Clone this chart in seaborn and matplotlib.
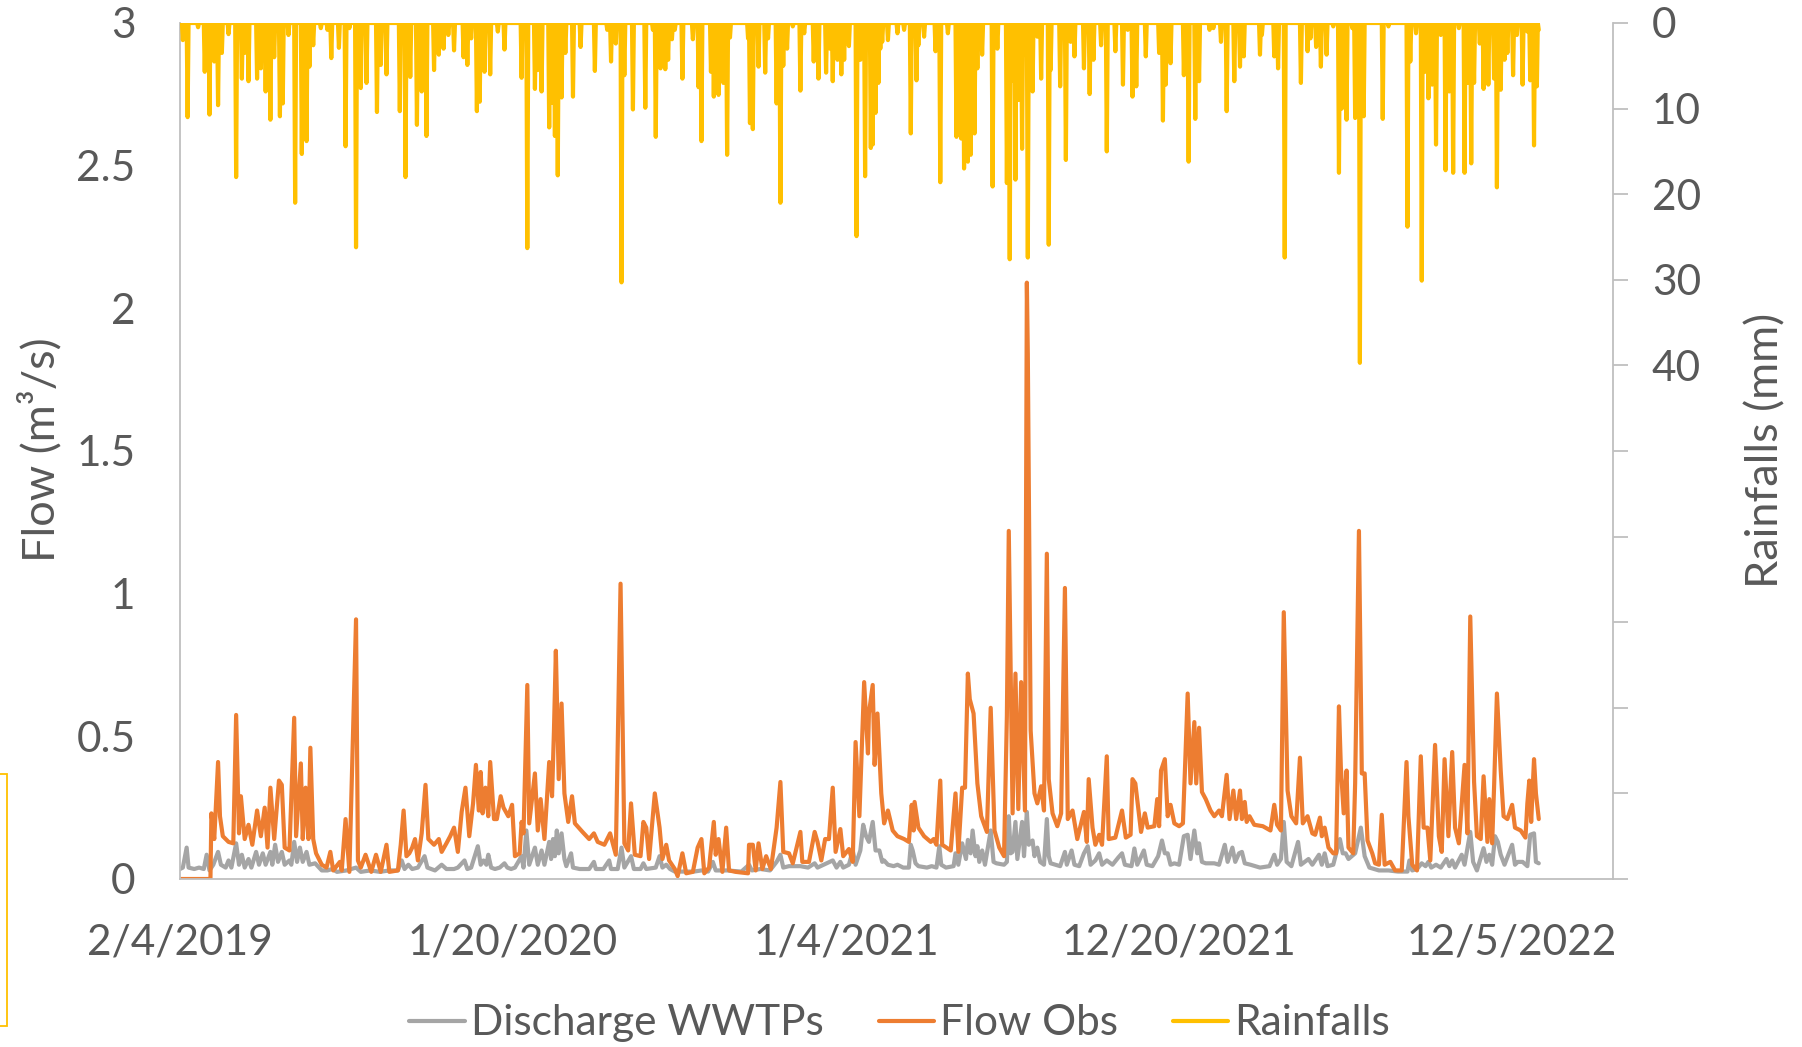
import matplotlib
matplotlib.use("Agg")
import matplotlib.pyplot as plt
import matplotlib.dates as mdates
from matplotlib.lines import Line2D
from matplotlib.patches import Rectangle
from matplotlib.ticker import FuncFormatter
import numpy as np
import pandas as pd
import seaborn as sns

# === data (day offset from 2/4/2019, value) ===
START = pd.Timestamp("2019-02-04")
LAST_DAY = 1428
AXIS_DAYS = 1506
TICK_DAYS = [0, 350, 700, 1050, 1400]

# daily rainfall in mm, days not listed had no rain
RAIN_EVENTS = [
    (3, 2), (8, 11), (19, 0.5), (26, 5.7), (31, 10.7), (36, 4.5), (40, 9.6), (44, 3.5), (51, 1.3),
    (59, 18), (65, 6.5), (68, 3.5), (72, 6.8), (81, 6.5), (85, 5.3), (90, 8), (95, 11.3), (99, 4),
    (105, 10.9), (108, 9.4), (114, 1.4), (121, 21), (128, 15.3), (133, 13.8), (136, 5.1), (140, 2.6),
    (148, 0.6), (155, 0.8), (159, 4.1), (167, 2.9), (174, 14.4), (178, 0.6), (185, 26.2), (190, 7.6),
    (196, 7), (207, 10.4), (211, 4.9), (217, 6), (231, 10.3), (237, 18), (242, 6.3), (249, 11.9),
    (254, 8), (259, 13.2), (267, 5.5), (272, 3.7), (277, 3), (282, 1.4), (288, 3.2), (298, 4),
    (302, 4.9), (306, 1.8), (312, 10.3), (315, 9.2), (320, 5.7), (326, 6), (334, 1), (341, 3.1),
    (359, 6.4), (365, 26.3), (373, 7.7), (376, 5.5), (380, 8), (388, 12.2), (391, 9.3), (394, 13.2),
    (397, 17.8), (401, 8.7), (405, 3.5), (413, 8.6), (421, 2.8), (436, 5.6), (449, 0.8), (453, 4.5),
    (458, 2.4), (464, 30.3), (467, 6.1), (476, 10.1), (489, 9.9), (497, 0.8), (500, 13.3), (505, 5.3),
    (510, 5.4), (513, 4.3), (517, 1.9), (520, 0.8), (528, 6.5), (539, 1.9), (545, 7.5), (548, 13.8),
    (558, 5.7), (561, 8.6), (566, 8.4), (571, 7), (575, 15.4), (578, 1.7), (597, 1.8), (599, 11.7),
    (602, 12.4), (608, 5.1), (615, 5.8), (618, 1.8), (627, 9.4), (631, 21), (634, 5), (638, 3),
    (644, 0.4), (652, 7.9), (656, 1.2), (666, 4.5), (671, 6.5), (679, 5.8), (683, 3), (686, 6.8),
    (691, 4.3), (695, 6), (698, 4.3), (703, 2.7), (711, 24.9), (715, 4.3), (720, 17.9), (726, 14.6),
    (728, 14.2), (731, 10.5), (734, 7), (736, 3), (738, 2.2), (744, 2), (754, 1.2), (761, 0.8),
    (768, 12.9), (774, 6.7), (776, 2.6), (782, 1.6), (794, 3.3), (799, 18.6), (807, 1.2), (816, 13.3),
    (821, 13.5), (824, 17), (828, 16.2), (831, 15.4), (835, 12.9), (838, 5.3), (843, 3.7), (854, 19.1),
    (859, 3), (869, 18.7), (872, 27.6), (875, 6.7), (878, 18.3), (881, 9), (885, 14.7), (888, 3.7),
    (891, 27.4), (896, 8), (901, 1.6), (905, 6.5), (913, 25.9), (915, 5.5), (925, 7.4), (931, 16),
    (936, 2.2), (940, 3.9), (950, 5.3), (956, 8.3), (960, 4.3), (968, 2.6), (974, 15), (983, 3.3),
    (991, 7.2), (996, 0.8), (1001, 8.6), (1005, 7.4), (1015, 3.9), (1029, 3.5), (1033, 11.4),
    (1036, 7.2), (1041, 4.7), (1055, 6.1), (1060, 16.2), (1067, 11.2), (1071, 6.8), (1082, 0.8),
    (1086, 0.6), (1094, 2.2), (1100, 10.3), (1108, 6.8), (1114, 5.1), (1118, 3.9), (1135, 3.7),
    (1137, 1.4), (1150, 3.9), (1154, 5.3), (1161, 27.4), (1178, 7), (1185, 3.3), (1188, 1.8),
    (1194, 2.8), (1199, 5.1), (1205, 3.7), (1212, 0.4), (1218, 17.5), (1221, 10), (1226, 11.3),
    (1232, 0.6), (1235, 11.1), (1240, 39.7), (1244, 10.9), (1264, 11.2), (1270, 0.4), (1290, 23.8),
    (1293, 4.5), (1299, 1.2), (1305, 30.1), (1309, 5.7), (1312, 8.8), (1316, 7.2), (1320, 14.2),
    (1325, 1.4), (1330, 17.2), (1334, 8), (1338, 17.5), (1344, 0.6), (1350, 17.5), (1353, 7),
    (1357, 16.4), (1360, 7), (1366, 2.4), (1370, 7.7), (1375, 7.2), (1381, 6.5), (1384, 19.2),
    (1388, 7.8), (1392, 4.3), (1395, 3.5), (1401, 6.1), (1405, 1.4), (1411, 7.2), (1416, 1),
    (1419, 6.7), (1423, 14.3), (1426, 7.4), (1428, 0.8),
]

# observed flow (m3/s)
FLOW_OBS = [
    (0, 0), (32, 0), (33, 0.23), (36, 0.14), (40, 0.41), (42, 0.22), (45, 0.15), (51, 0.13), (56, 0.125),
    (59, 0.575), (62, 0.16), (64, 0.29), (68, 0.14), (72, 0.19), (76, 0.12), (81, 0.24), (85, 0.15),
    (89, 0.25), (92, 0.11), (95, 0.32), (99, 0.14), (104, 0.345), (107, 0.33), (110, 0.11), (115, 0.10),
    (120, 0.565), (122, 0.15), (127, 0.405), (129, 0.14), (132, 0.32), (135, 0.14), (137, 0.46),
    (140, 0.14), (143, 0.09), (149, 0.05), (154, 0.04), (158, 0.095), (161, 0.03), (168, 0.06),
    (170, 0.03), (174, 0.21), (178, 0.025), (185, 0.91), (187, 0.065), (190, 0.04), (195, 0.085),
    (201, 0.025), (206, 0.085), (211, 0.025), (217, 0.12), (220, 0.025), (229, 0.03), (232, 0.12),
    (235, 0.24), (238, 0.08), (241, 0.09), (244, 0.11), (247, 0.14), (250, 0.065), (254, 0.16),
    (258, 0.33), (261, 0.14), (267, 0.12), (272, 0.14), (275, 0.095), (280, 0.125), (284, 0.15),
    (288, 0.18), (292, 0.095), (296, 0.235), (300, 0.32), (304, 0.15), (308, 0.265), (311, 0.40),
    (314, 0.24), (316, 0.375), (318, 0.23), (321, 0.32), (324, 0.22), (326, 0.41), (330, 0.21),
    (333, 0.21), (337, 0.29), (340, 0.25), (345, 0.22), (349, 0.26), (352, 0.08), (357, 0.09),
    (359, 0.20), (361, 0.16), (365, 0.68), (367, 0.195), (373, 0.37), (376, 0.17), (379, 0.28),
    (383, 0.14), (388, 0.41), (391, 0.29), (393, 0.52), (395, 0.80), (398, 0.35), (401, 0.615),
    (404, 0.30), (408, 0.20), (412, 0.29), (415, 0.195), (423, 0.165), (430, 0.14), (435, 0.16),
    (439, 0.13), (446, 0.12), (452, 0.16), (458, 0.085), (463, 1.035), (467, 0.125), (471, 0.10),
    (474, 0.265), (478, 0.085), (484, 0.08), (487, 0.20), (490, 0.18), (493, 0.07), (499, 0.30),
    (504, 0.18), (507, 0.07), (511, 0.12), (514, 0.065), (520, 0.035), (523, 0.01), (528, 0.09),
    (532, 0.02), (539, 0.025), (544, 0.11), (548, 0.14), (551, 0.02), (556, 0.04), (561, 0.20),
    (563, 0.085), (566, 0.14), (570, 0.025), (574, 0.18), (577, 0.03), (584, 0.025), (597, 0.02),
    (598, 0.12), (602, 0.12), (605, 0.03), (608, 0.125), (612, 0.035), (616, 0.08), (621, 0.035),
    (627, 0.18), (631, 0.34), (634, 0.095), (640, 0.09), (644, 0.055), (652, 0.165), (654, 0.06),
    (661, 0.06), (667, 0.165), (670, 0.13), (674, 0.065), (678, 0.14), (682, 0.14), (686, 0.32),
    (689, 0.095), (694, 0.175), (697, 0.08), (703, 0.105), (707, 0.06), (710, 0.48), (714, 0.22),
    (719, 0.69), (723, 0.44), (724, 0.58), (728, 0.68), (730, 0.40), (733, 0.58), (737, 0.30),
    (740, 0.195), (744, 0.24), (749, 0.17), (754, 0.15), (761, 0.14), (766, 0.13), (769, 0.26),
    (771, 0.17), (772, 0.27), (776, 0.18), (782, 0.15), (789, 0.13), (792, 0.14), (795, 0.12),
    (799, 0.345), (801, 0.12), (810, 0.10), (815, 0.30), (818, 0.095), (822, 0.32), (825, 0.32),
    (828, 0.72), (830, 0.63), (834, 0.58), (838, 0.335), (842, 0.22), (848, 0.165), (852, 0.60),
    (856, 0.17), (861, 0.11), (866, 0.08), (869, 0.57), (871, 1.22), (875, 0.23), (878, 0.72),
    (881, 0.245), (884, 0.69), (888, 0.24), (890, 2.09), (891, 1.84), (894, 0.52), (898, 0.30),
    (901, 0.265), (905, 0.325), (908, 0.24), (911, 1.14), (913, 0.35), (917, 0.23), (922, 0.185),
    (926, 0.23), (930, 1.02), (933, 0.21), (938, 0.24), (943, 0.14), (950, 0.235), (953, 0.13),
    (955, 0.35), (959, 0.18), (962, 0.12), (966, 0.155), (969, 0.12), (974, 0.43), (976, 0.14),
    (983, 0.145), (990, 0.24), (994, 0.145), (999, 0.155), (1001, 0.35), (1004, 0.335), (1010, 0.165),
    (1014, 0.23), (1017, 0.18), (1024, 0.185), (1027, 0.28), (1029, 0.185), (1031, 0.38), (1035, 0.42),
    (1038, 0.22), (1041, 0.26), (1045, 0.195), (1050, 0.185), (1054, 0.195), (1056, 0.37),
    (1059, 0.65), (1062, 0.335), (1066, 0.55), (1068, 0.335), (1071, 0.53), (1074, 0.305),
    (1078, 0.28), (1083, 0.24), (1087, 0.22), (1092, 0.24), (1095, 0.22), (1100, 0.365), (1103, 0.21),
    (1107, 0.31), (1110, 0.21), (1114, 0.31), (1116, 0.21), (1119, 0.27), (1121, 0.20), (1124, 0.22),
    (1129, 0.19), (1138, 0.185), (1146, 0.17), (1150, 0.26), (1153, 0.19), (1157, 0.17), (1160, 0.935),
    (1164, 0.31), (1168, 0.22), (1173, 0.195), (1177, 0.425), (1180, 0.195), (1185, 0.22), (1190, 0.16),
    (1193, 0.155), (1198, 0.215), (1200, 0.15), (1203, 0.18), (1207, 0.11), (1212, 0.09), (1215, 0.09),
    (1218, 0.605), (1220, 0.39), (1223, 0.23), (1226, 0.38), (1228, 0.11), (1233, 0.09), (1235, 0.335),
    (1239, 1.22), (1242, 0.37), (1245, 0.37), (1248, 0.135), (1253, 0.09), (1256, 0.055), (1260, 0.05),
    (1263, 0.225), (1266, 0.05), (1272, 0.06), (1277, 0.03), (1284, 0.03), (1289, 0.41), (1291, 0.22),
    (1295, 0.05), (1300, 0.03), (1304, 0.43), (1307, 0.18), (1311, 0.18), (1314, 0.065), (1319, 0.47),
    (1323, 0.15), (1326, 0.095), (1329, 0.42), (1333, 0.15), (1337, 0.445), (1340, 0.18), (1344, 0.125),
    (1350, 0.40), (1353, 0.16), (1356, 0.92), (1360, 0.34), (1363, 0.15), (1367, 0.14), (1370, 0.36),
    (1374, 0.13), (1376, 0.28), (1379, 0.125), (1381, 0.32), (1384, 0.65), (1388, 0.38), (1391, 0.22),
    (1395, 0.21), (1400, 0.26), (1403, 0.18), (1409, 0.17), (1414, 0.145), (1416, 0.265), (1418, 0.345),
    (1420, 0.20), (1423, 0.42), (1425, 0.30), (1428, 0.21),
]

# discharge of the WWTPs (m3/s)
FLOW_WWTP = [
    (0, 0.035), (3, 0.04), (7, 0.11), (9, 0.04), (15, 0.035), (20, 0.04), (25, 0.035), (28, 0.085),
    (31, 0.03), (35, 0.05), (40, 0.095), (43, 0.05), (48, 0.04), (51, 0.065), (54, 0.04), (59, 0.125),
    (62, 0.05), (65, 0.085), (68, 0.04), (72, 0.07), (75, 0.04), (80, 0.095), (83, 0.05), (87, 0.09),
    (90, 0.05), (95, 0.095), (97, 0.05), (100, 0.12), (103, 0.06), (107, 0.095), (110, 0.05),
    (115, 0.065), (117, 0.05), (120, 0.13), (123, 0.06), (126, 0.11), (129, 0.06), (133, 0.095),
    (136, 0.05), (142, 0.055), (149, 0.03), (155, 0.03), (160, 0.035), (165, 0.025), (175, 0.03),
    (185, 0.04), (190, 0.025), (200, 0.03), (210, 0.025), (220, 0.03), (229, 0.03), (233, 0.065),
    (236, 0.035), (240, 0.05), (244, 0.035), (250, 0.04), (257, 0.08), (260, 0.04), (268, 0.03),
    (275, 0.05), (280, 0.035), (288, 0.035), (292, 0.04), (299, 0.065), (302, 0.035), (306, 0.04),
    (313, 0.115), (316, 0.05), (319, 0.065), (322, 0.05), (324, 0.085), (327, 0.04), (331, 0.035),
    (336, 0.04), (341, 0.055), (344, 0.04), (348, 0.035), (352, 0.04), (359, 0.08), (361, 0.04),
    (364, 0.17), (367, 0.05), (373, 0.11), (376, 0.05), (380, 0.10), (383, 0.05), (388, 0.13),
    (390, 0.07), (392, 0.14), (394, 0.08), (396, 0.17), (398, 0.09), (401, 0.16), (404, 0.07),
    (406, 0.045), (411, 0.09), (413, 0.04), (420, 0.035), (430, 0.035), (435, 0.06), (437, 0.035),
    (445, 0.035), (451, 0.065), (453, 0.035), (460, 0.035), (464, 0.11), (467, 0.04), (474, 0.08),
    (477, 0.035), (484, 0.035), (487, 0.055), (490, 0.035), (500, 0.04), (504, 0.08), (507, 0.04),
    (511, 0.05), (515, 0.035), (520, 0.026), (540, 0.026), (548, 0.03), (555, 0.026), (560, 0.06),
    (563, 0.03), (575, 0.03), (590, 0.026), (598, 0.05), (601, 0.03), (610, 0.035), (620, 0.03),
    (627, 0.06), (631, 0.085), (634, 0.04), (640, 0.045), (652, 0.045), (660, 0.04), (667, 0.055),
    (670, 0.04), (686, 0.065), (690, 0.04), (694, 0.06), (697, 0.04), (703, 0.05), (707, 0.10),
    (710, 0.05), (715, 0.10), (718, 0.19), (721, 0.15), (724, 0.13), (728, 0.20), (731, 0.10),
    (735, 0.10), (738, 0.06), (740, 0.065), (744, 0.05), (750, 0.045), (754, 0.05), (760, 0.04),
    (766, 0.04), (768, 0.12), (770, 0.10), (773, 0.055), (776, 0.045), (785, 0.04), (790, 0.045),
    (795, 0.04), (798, 0.115), (800, 0.05), (805, 0.04), (813, 0.045), (815, 0.09), (818, 0.05),
    (822, 0.125), (826, 0.07), (828, 0.137), (831, 0.09), (833, 0.17), (836, 0.08), (838, 0.115),
    (840, 0.06), (843, 0.10), (846, 0.05), (852, 0.17), (855, 0.06), (858, 0.055), (866, 0.05),
    (869, 0.06), (871, 0.22), (873, 0.09), (875, 0.095), (878, 0.20), (880, 0.07), (885, 0.20),
    (887, 0.08), (890, 0.235), (892, 0.12), (896, 0.135), (898, 0.08), (901, 0.11), (904, 0.06),
    (908, 0.05), (911, 0.21), (913, 0.08), (915, 0.055), (920, 0.05), (925, 0.045), (930, 0.095),
    (932, 0.05), (937, 0.10), (940, 0.05), (945, 0.045), (950, 0.09), (954, 0.115), (957, 0.05),
    (962, 0.065), (966, 0.09), (969, 0.05), (974, 0.065), (980, 0.05), (986, 0.075), (990, 0.09),
    (993, 0.05), (1000, 0.045), (1003, 0.107), (1006, 0.05), (1013, 0.10), (1016, 0.05), (1022, 0.045),
    (1028, 0.08), (1032, 0.135), (1035, 0.09), (1038, 0.09), (1041, 0.05), (1045, 0.055), (1050, 0.05),
    (1055, 0.15), (1059, 0.155), (1062, 0.07), (1066, 0.17), (1069, 0.09), (1071, 0.125), (1074, 0.06),
    (1078, 0.055), (1083, 0.055), (1087, 0.055), (1092, 0.05), (1098, 0.12), (1101, 0.06), (1106, 0.11),
    (1109, 0.06), (1113, 0.09), (1116, 0.095), (1119, 0.055), (1125, 0.05), (1135, 0.04), (1145, 0.045),
    (1150, 0.085), (1153, 0.05), (1157, 0.07), (1160, 0.20), (1163, 0.06), (1168, 0.045), (1175, 0.13),
    (1178, 0.05), (1186, 0.07), (1190, 0.05), (1197, 0.085), (1200, 0.05), (1203, 0.09), (1206, 0.045),
    (1212, 0.05), (1219, 0.14), (1222, 0.09), (1225, 0.09), (1228, 0.07), (1235, 0.09), (1241, 0.18),
    (1245, 0.08), (1250, 0.04), (1260, 0.03), (1270, 0.03), (1280, 0.026), (1290, 0.026), (1292, 0.065),
    (1295, 0.03), (1300, 0.035), (1305, 0.055), (1309, 0.045), (1312, 0.06), (1315, 0.04), (1320, 0.05),
    (1325, 0.04), (1331, 0.07), (1334, 0.045), (1337, 0.065), (1340, 0.04), (1347, 0.085), (1350, 0.05),
    (1356, 0.165), (1359, 0.06), (1363, 0.03), (1370, 0.108), (1373, 0.06), (1376, 0.085), (1379, 0.05),
    (1382, 0.15), (1385, 0.13), (1388, 0.085), (1392, 0.05), (1400, 0.12), (1403, 0.05), (1406, 0.06),
    (1411, 0.06), (1416, 0.045), (1419, 0.155), (1423, 0.16), (1425, 0.06), (1428, 0.055),
]

LEFT_TICKS = [0, 0.5, 1, 1.5, 2, 2.5, 3]
RIGHT_TICKS = list(range(0, 101, 10))
RIGHT_LABELED = [0, 10, 20, 30, 40]

C_WWTP = "#A5A5A5"
C_OBS = "#ED7D31"
C_RAIN = "#FFC000"
C_TEXT = "#595959"
C_AXIS = "#BFBFBF"
FS = 30.5
FS_TITLE = 32.5
LW = 3.0


def to_frame(pairs, name):
    df = pd.DataFrame(pairs, columns=["day", name])
    df["date"] = START + pd.to_timedelta(df["day"], unit="D")
    return df


def date_label(x, _):
    d = mdates.num2date(x)
    return f"{d.month}/{d.day}/{d.year}"


def draw():
    sns.set_style("white")
    plt.rcParams["font.family"] = ["Lato", "DejaVu Sans"]
    plt.rcParams["text.color"] = C_TEXT

    # rainfall as a daily series (zero on dry days)
    rain = np.zeros(LAST_DAY + 1)
    for d, mm in RAIN_EVENTS:
        rain[d] = mm
    df_rain = to_frame(list(zip(range(LAST_DAY + 1), rain)), "rain")
    df_obs = to_frame(FLOW_OBS, "flow")
    df_wwtp = to_frame(FLOW_WWTP, "flow")

    fig, ax = plt.subplots(figsize=(18.02, 10.47), dpi=100)
    plt.subplots_adjust(left=180 / 1802, right=1613 / 1802, top=1 - 23 / 1047, bottom=1 - 879 / 1047)

    sns.lineplot(data=df_wwtp, x="date", y="flow", ax=ax, color=C_WWTP, linewidth=LW, errorbar=None)
    sns.lineplot(data=df_obs, x="date", y="flow", ax=ax, color=C_OBS, linewidth=LW, errorbar=None)

    ax2 = ax.twinx()
    sns.lineplot(data=df_rain, x="date", y="rain", ax=ax2, color=C_RAIN, linewidth=LW, errorbar=None)

    x0 = START
    x1 = START + pd.Timedelta(days=AXIS_DAYS)
    ax.set_xlim(x0, x1)
    ax.set_ylim(0, 3)
    ax2.set_ylim(100, 0)

    ax.set_xticks([START + pd.Timedelta(days=d) for d in TICK_DAYS])
    ax.xaxis.set_major_formatter(FuncFormatter(date_label))
    ax.set_yticks(LEFT_TICKS)
    ax.set_yticklabels([f"{v:g}" for v in LEFT_TICKS])
    ax2.set_yticks(RIGHT_TICKS)
    ax2.set_yticklabels([str(v) if v in RIGHT_LABELED else "" for v in RIGHT_TICKS])

    ax.tick_params(axis="x", length=0, pad=32, labelsize=FS, labelcolor=C_TEXT)
    ax.tick_params(axis="y", length=0, pad=32, labelsize=FS, labelcolor=C_TEXT)
    ax2.tick_params(axis="y", length=11, width=1.3, color=C_AXIS, pad=17, labelsize=FS, labelcolor=C_TEXT)

    ax.set_xlabel("")
    ax.set_ylabel("")
    ax2.set_ylabel("")

    for s in ["top", "right"]:
        ax.spines[s].set_visible(False)
    for s in ["left", "bottom"]:
        ax.spines[s].set_color(C_AXIS)
        ax.spines[s].set_linewidth(1.3)
    for s in ["top", "left", "bottom"]:
        ax2.spines[s].set_visible(False)
    ax2.spines["right"].set_color(C_AXIS)
    ax2.spines["right"].set_linewidth(1.3)

    fig.text(40 / 1802, 1 - 450 / 1047, "Flow (m³/s)", rotation=90, ha="center", va="center",
             fontsize=FS_TITLE, color=C_TEXT)
    fig.text(1766 / 1802, 1 - 450 / 1047, "Rainfalls (mm)", rotation=90, ha="center", va="center",
             fontsize=FS_TITLE, color=C_TEXT)

    handles = [Line2D([], [], color=c, linewidth=LW) for c in (C_WWTP, C_OBS, C_RAIN)]
    fig.legend(handles, ["Discharge WWTPs", "Flow Obs", "Rainfalls"], loc="center",
               bbox_to_anchor=(0.4994, 0.0225), ncol=3, frameon=False, fontsize=FS,
               handlelength=1.3, handletextpad=0.15, columnspacing=1.3, borderpad=0)

    # stray yellow text box edge at the lower left
    fig.patches.append(Rectangle((-0.02, 1 - 1026 / 1047), 0.02 + 7 / 1802, 252 / 1047,
                                 transform=fig.transFigure, fill=False, edgecolor=C_RAIN, linewidth=1.3))

    fig.savefig("out.png", dpi=100)


if __name__ == "__main__":
    draw()
